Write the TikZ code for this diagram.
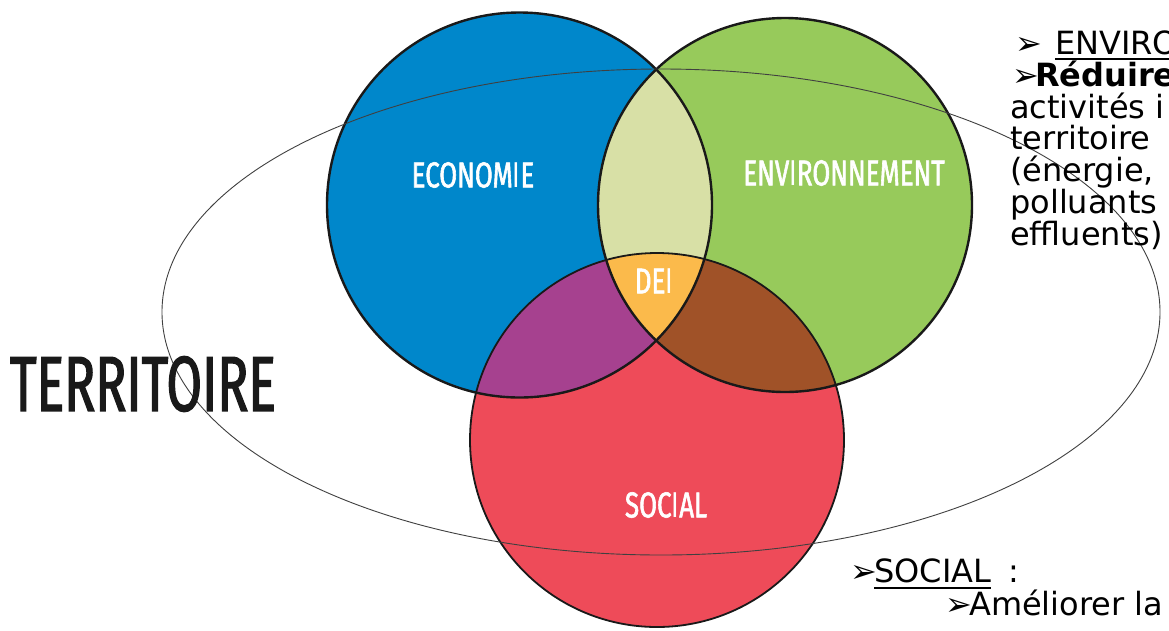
\documentclass[tikz,border=0pt]{standalone}
\usepackage{fontspec}
\newfontfamily\cond{Fira Sans}[FakeStretch=0.72, FakeBold=1.6]
\newfontfamily\condT{Fira Sans}[FakeStretch=0.66, FakeBold=1.6]
\newfontfamily\condI{Fira Sans}[FakeStretch=0.72]
\newfontfamily\verd{DejaVu Sans}
\definecolor{ecoblue}{HTML}{0087CB}
\definecolor{envgreen}{HTML}{97CA5B}
\definecolor{socred}{HTML}{EE4B59}
\definecolor{lensc}{HTML}{D8E0A6}
\definecolor{purp}{HTML}{A6418F}
\definecolor{brwn}{HTML}{A05228}
\definecolor{orng}{HTML}{FBBA4B}
\def\eco{(519.5,205) circle[radius=192.5pt]}
\def\env{(785,205) circle[radius=187pt]}
\def\soc{(657,440) circle[radius=187pt]}
\newcommand\thinI{{\condI I}}
\tikzset{
  outline/.style={draw=black!90, line width=2.4pt},
  terr/.style={draw=black!75, line width=0.9pt},
  lab/.style={text=white, inner sep=0pt, font=\cond\fontsize{36}{36}\selectfont},
  txt/.style={anchor=base west, inner sep=0pt, text=black, font=\verd\fontsize{32}{38}\selectfont},
  bul/.style={anchor=base west, inner sep=0pt, text=black, font=\verd\fontsize{32}{38}\selectfont},
  ul/.style={line width=1.8pt}
}
\begin{document}
\begin{tikzpicture}[x=1pt,y=-1pt]
\useasboundingbox (0,0) rectangle (1169,630);
\clip (0,0) rectangle (1169,630);
\fill[white] (0,0) rectangle (1169,630);
% circles
\fill[ecoblue] \eco;
\fill[envgreen] \env;
\fill[socred] \soc;
\begin{scope}\clip \eco; \fill[lensc] \env; \fill[purp] \soc; \end{scope}
\begin{scope}\clip \env; \fill[brwn] \soc; \end{scope}
\begin{scope}\clip \eco; \clip \env; \fill[orng] \soc; \end{scope}
\draw[outline] \eco;
\draw[outline] \env;
\draw[outline, line width=1.8pt] \soc;
% territoire ellipse
\draw[terr] (661,312) ellipse[x radius=499pt, y radius=243pt];
% labels
\node[lab] (leco) at (473,175) {ECONOM\thinI E};
\node[lab] (lenv) at (844,173) {ENV\thinI RONNEMENT};
\node[lab] (lde) at (654,281) {DE\thinI};
\node[lab] (lsoc) at (666,505) {SOC\thinI AL};
\node[lab, text=black!90, font=\condT\fontsize{78}{78}\selectfont] (lterr) at (143,384) {TERRITOIRE};
% right text
\node[bul] (b1) at (1015,54) {➢};
\node[txt] (t1) at (1055,54) {ENVIRO};
\draw[ul] ([yshift=-5pt]t1.base west) -- ([yshift=-5pt]t1.base east);
\node[bul] (b2) at (1012,86) {➢};
\node[txt, font=\verd\bfseries\fontsize{32}{38}\selectfont] (t2) at (1035,86) {Réduire};
\node[txt] (t3) at (1010,118) {activités i};
\node[txt] (t4) at (1010,149) {territoire};
\node[txt] (t5) at (1010,181) {(énergie,};
\node[txt] (t6) at (1010,213) {polluants};
\node[txt] (t7) at (1010,245) {effluents)};
% bottom text
\node[bul] (b3) at (850,582) {➢};
\node[txt] (s1) at (874,582) {SOCIAL};
\draw[ul] ([yshift=-6pt]s1.base west) -- ([yshift=-6pt]s1.base east);
\node[txt] (s2) at (1008,582) {:};
\node[bul] (b4) at (945,615) {➢};
\node[txt] (s3) at (969,615) {Améliorer la};
\end{tikzpicture}
\end{document}
